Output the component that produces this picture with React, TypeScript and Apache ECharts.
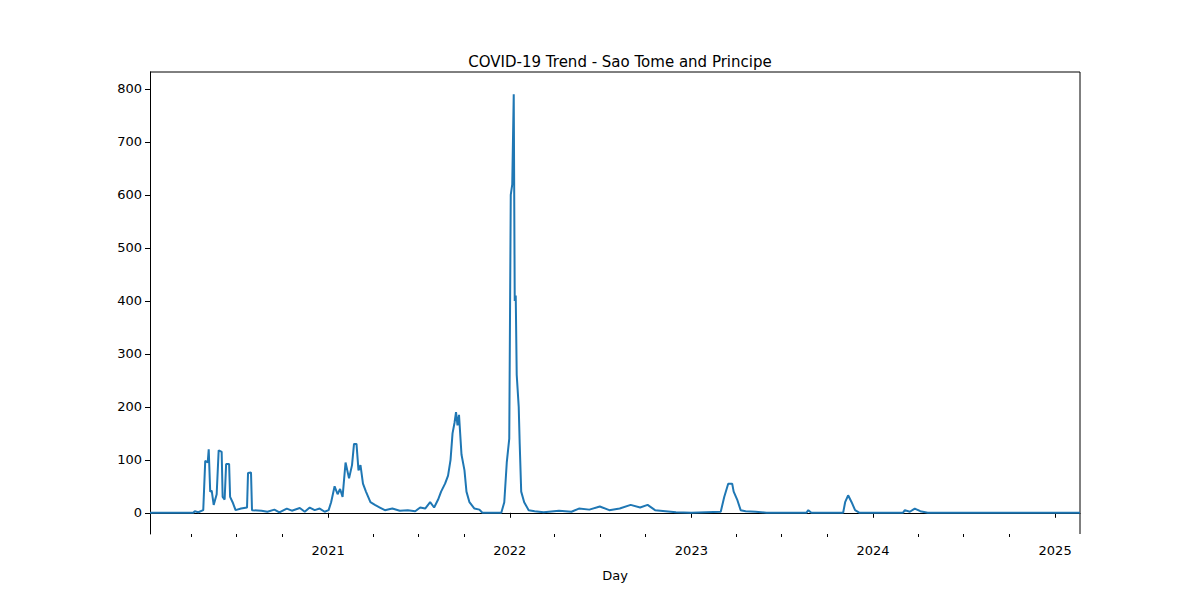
import { useEffect, useRef } from "react";
import * as echarts from "echarts";

// [date, new cases]
const points: [string, number][] = [
  ["2020-01-09", 0], ["2020-04-05", 0], ["2020-04-08", 3], ["2020-04-15", 1], ["2020-04-25", 5],
  ["2020-04-29", 98], ["2020-05-04", 95], ["2020-05-06", 120], ["2020-05-09", 40], ["2020-05-12", 42],
  ["2020-05-16", 15], ["2020-05-22", 35], ["2020-05-26", 118], ["2020-06-01", 115], ["2020-06-03", 30],
  ["2020-06-07", 25], ["2020-06-10", 92], ["2020-06-16", 92], ["2020-06-18", 30], ["2020-06-23", 20],
  ["2020-06-29", 5], ["2020-07-10", 8], ["2020-07-22", 10], ["2020-07-24", 75], ["2020-07-30", 76],
  ["2020-08-01", 5], ["2020-08-20", 4], ["2020-09-01", 2], ["2020-09-15", 6], ["2020-09-25", 1],
  ["2020-10-10", 8], ["2020-10-20", 4], ["2020-11-05", 9], ["2020-11-15", 2], ["2020-11-25", 10],
  ["2020-12-05", 5], ["2020-12-15", 8], ["2020-12-25", 2], ["2021-01-02", 5],
  ["2021-01-07", 20], ["2021-01-14", 50], ["2021-01-20", 35], ["2021-01-25", 45], ["2021-01-30", 30],
  ["2021-02-05", 95], ["2021-02-12", 65], ["2021-02-18", 90], ["2021-02-22", 130], ["2021-02-27", 130],
  ["2021-03-03", 80], ["2021-03-07", 90], ["2021-03-12", 55], ["2021-03-18", 40], ["2021-03-27", 20],
  ["2021-04-05", 15], ["2021-04-15", 10], ["2021-04-25", 5], ["2021-05-10", 8], ["2021-05-25", 4],
  ["2021-06-10", 5], ["2021-06-25", 3], ["2021-07-05", 10], ["2021-07-15", 8], ["2021-07-25", 20],
  ["2021-08-02", 10], ["2021-08-10", 25], ["2021-08-16", 40], ["2021-08-24", 55], ["2021-08-30", 70],
  ["2021-09-04", 100], ["2021-09-08", 150], ["2021-09-12", 170], ["2021-09-15", 190], ["2021-09-18", 165],
  ["2021-09-21", 185], ["2021-09-26", 110], ["2021-10-02", 80], ["2021-10-06", 40], ["2021-10-12", 20],
  ["2021-10-22", 8], ["2021-11-01", 6], ["2021-11-07", 0], ["2021-12-15", 0], ["2021-12-21", 20],
  ["2021-12-26", 95], ["2021-12-31", 140], ["2022-01-03", 600], ["2022-01-06", 620], ["2022-01-09", 790],
  ["2022-01-11", 400], ["2022-01-13", 410], ["2022-01-15", 260], ["2022-01-19", 200], ["2022-01-21", 130],
  ["2022-01-24", 40], ["2022-01-30", 20], ["2022-02-08", 5], ["2022-02-20", 3], ["2022-03-10", 1],
  ["2022-04-10", 4], ["2022-05-05", 2], ["2022-05-20", 8], ["2022-06-10", 6], ["2022-07-01", 12],
  ["2022-07-20", 5], ["2022-08-10", 8], ["2022-09-01", 15], ["2022-09-20", 10], ["2022-10-05", 15],
  ["2022-10-20", 5], ["2022-11-10", 3], ["2022-12-01", 1], ["2023-01-01", 0], ["2023-03-01", 2],
  ["2023-03-08", 30], ["2023-03-16", 55], ["2023-03-24", 55], ["2023-03-27", 40], ["2023-04-03", 25],
  ["2023-04-10", 5], ["2023-04-20", 3], ["2023-05-10", 2], ["2023-06-01", 0], ["2023-08-20", 0],
  ["2023-08-24", 5], ["2023-08-30", 0], ["2023-11-02", 0], ["2023-11-06", 20], ["2023-11-12", 33],
  ["2023-11-19", 20], ["2023-11-26", 5], ["2023-12-05", 0], ["2024-03-01", 0], ["2024-03-05", 5],
  ["2024-03-15", 2], ["2024-03-25", 8], ["2024-04-05", 3], ["2024-04-20", 0], ["2025-02-20", 0],
];

const xMin = "2020-01-09";
const xMax = "2025-02-20";
const yearLabels = [2021, 2022, 2023, 2024, 2025];
const quarterTicks = [
  "2020-04-01", "2020-07-01", "2020-10-01", "2021-04-01", "2021-07-01", "2021-10-01",
  "2022-04-01", "2022-07-01", "2022-10-01", "2023-04-01", "2023-07-01", "2023-10-01",
  "2024-04-01", "2024-07-01", "2024-10-01",
];
const yTicks = [0, 100, 200, 300, 400, 500, 600, 700, 800];

const ts = (d: string) => Date.parse(d + "T00:00:00Z");
const FONT = "DejaVu Sans";

export default function App() {
  const ref = useRef<HTMLDivElement>(null);

  useEffect(() => {
    if (!ref.current) return;
    const chart = echarts.init(ref.current, undefined, { renderer: "svg" });
    const years = yearLabels.map((y) => ts(`${y}-01-01`));
    const range = { type: "value" as const, min: ts(xMin), max: ts(xMax), splitLine: { show: false } };
    chart.setOption({
      animation: false,
      title: {
        text: "COVID-19 Trend - Sao Tome and Principe",
        left: 615, top: 49, textAlign: "center",
        textStyle: { fontFamily: FONT, fontSize: 15, fontWeight: "normal", color: "#000" },
      },
      grid: { left: 150, right: 120, top: 72, bottom: 66 },
      xAxis: [
        {
          ...range,
          name: "Day", nameLocation: "middle", nameGap: 35,
          nameTextStyle: { fontFamily: FONT, fontSize: 13, color: "#000" },
          axisLine: { lineStyle: { color: "#000" } },
          axisTick: { customValues: [ts(xMin), ...years], length: 5, lineStyle: { color: "#000" } },
          axisLabel: {
            customValues: years, fontFamily: FONT, fontSize: 13, color: "#000", margin: 10,
            formatter: (v: number) => String(new Date(v).getUTCFullYear()),
          },
        },
        {
          ...range,
          position: "bottom", offset: 0,
          axisLine: { show: false },
          axisTick: { customValues: quarterTicks.map(ts), length: 3, lineStyle: { color: "#000" } },
          axisLabel: { show: false },
        },
      ],
      yAxis: {
        type: "value", min: -40, max: 832, splitLine: { show: false },
        axisLine: { show: true, lineStyle: { color: "#000" } },
        axisTick: { show: true, customValues: yTicks, length: 5, lineStyle: { color: "#000" } },
        axisLabel: { customValues: yTicks, fontFamily: FONT, fontSize: 13, color: "#000", margin: 8 },
      },
      series: [
        {
          type: "line", xAxisIndex: 0, showSymbol: false,
          data: points.map(([d, v]) => [ts(d), v]),
          lineStyle: { color: "#1f77b4", width: 2 },
          itemStyle: { color: "#1f77b4" },
        },
      ],
      graphic: [
        { type: "line", shape: { x1: 150, y1: 72, x2: 1080, y2: 72 }, style: { stroke: "#000", lineWidth: 1 } },
        { type: "line", shape: { x1: 1080, y1: 72, x2: 1080, y2: 534 }, style: { stroke: "#000", lineWidth: 1 } },
      ],
    });
    return () => chart.dispose();
  }, []);

  return <div ref={ref} style={{ width: 1200, height: 600, margin: -8 }} />;
}
